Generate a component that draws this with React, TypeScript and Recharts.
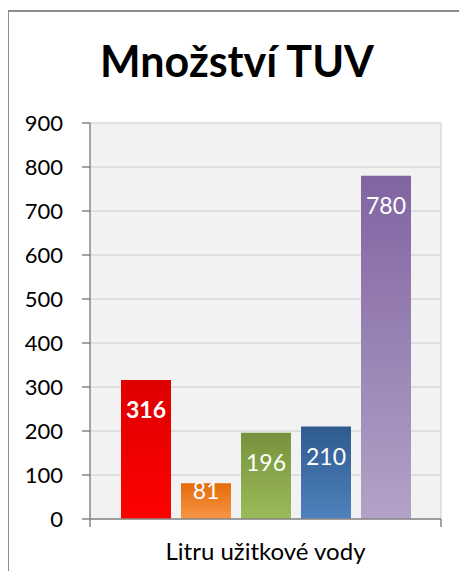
import { BarChart, Bar, XAxis, YAxis, CartesianGrid, LabelList } from 'recharts';

const category = 'Litru užitkové vody';
const seriesKeys = ['s1', 's2', 's3', 's4', 's5'];
const seriesValues = [316, 81, 196, 210, 780];
const yTicks = [0, 100, 200, 300, 400, 500, 600, 700, 800, 900];

// gradient top / bottom per bar
const topColors = ['#de0000', '#e46c0a', '#76923c', '#2f5b8f', '#8064a2'];
const bottomColors = ['#ff0000', '#f79646', '#9bbb59', '#4f81bd', '#b3a2c7'];
const labelBold = [true, false, false, false, false];

const row: Record<string, string | number> = { name: category };
seriesKeys.forEach((k, i) => {
  row[k] = seriesValues[i];
});
const data = [row];

const FONT = 'Lato, "Open Sans", sans-serif';

function makeLabel(bold: boolean) {
  return (props: any) => {
    const { x, y, width, height, value } = props;
    const base = y + Math.min(38, height - 20);
    return (
      <text
        x={x + width / 2}
        y={base}
        textAnchor="middle"
        fill="#ffffff"
        fontSize={23}
        fontWeight={bold ? 700 : 400}
        fontFamily={FONT}
      >
        {value}
      </text>
    );
  };
}

function CategoryTick(props: any) {
  const { x, y, payload, width } = props;
  const left = x - width / 2;
  const right = x + width / 2;
  return (
    <g>
      <line x1={left} y1={y} x2={left} y2={y + 8} stroke="#868686" strokeWidth={1.5} />
      <line x1={right} y1={y} x2={right} y2={y + 8} stroke="#868686" strokeWidth={1.5} />
      <text x={x} y={y + 41} textAnchor="middle" fill="#000" fontSize={24} fontFamily={FONT}>
        {payload.value}
      </text>
    </g>
  );
}

export default function App() {
  return (
    <div style={{ position: 'relative', width: 467, height: 579, margin: -8, background: '#fff', overflow: 'hidden' }}>
      <div
        style={{
          position: 'absolute',
          left: 7,
          top: 10,
          right: -10,
          bottom: -10,
          borderTop: '2px solid #8c8c8c',
          borderLeft: '2px solid #8c8c8c',
        }}
      />
      <div
        style={{
          position: 'absolute',
          left: 0,
          top: 31,
          width: 474,
          textAlign: 'center',
          fontFamily: FONT,
          fontWeight: 700,
          fontSize: 43,
          lineHeight: '60px',
          color: '#000',
        }}
      >
        Množství TUV
      </div>
      <div style={{ position: 'absolute', left: 0, top: 0 }}>
        <BarChart
          width={467}
          height={579}
          data={data}
          margin={{ top: 123, right: 26, bottom: 0, left: 0 }}
          barGap={10}
          barSize={50}
        >
          <defs>
            {seriesKeys.map((k, i) => (
              <linearGradient key={k} id={`grad-${k}`} x1="0" y1="0" x2="0" y2="1">
                <stop offset="0%" stopColor={topColors[i]} />
                <stop offset="100%" stopColor={bottomColors[i]} />
              </linearGradient>
            ))}
          </defs>
          <CartesianGrid
            fill="#f2f2f2"
            stroke="#d9d9d9"
            strokeWidth={1.5}
            verticalCoordinatesGenerator={(p: any) => [p.offset.left + p.offset.width]}
          />
          <XAxis
            dataKey="name"
            height={60}
            axisLine={{ stroke: '#868686', strokeWidth: 1.5 }}
            tickLine={false}
            tickSize={0}
            tickMargin={0}
            tick={<CategoryTick />}
            interval={0}
          />
          <YAxis
            width={90}
            domain={[0, 900]}
            ticks={yTicks}
            interval={0}
            axisLine={{ stroke: '#868686', strokeWidth: 1.5 }}
            tickLine={{ stroke: '#868686', strokeWidth: 1.5 }}
            tickSize={8}
            tickMargin={19}
            tick={{ fill: '#000', fontSize: 22, fontFamily: FONT }}
          />
          {seriesKeys.map((k, i) => (
            <Bar key={k} dataKey={k} fill={`url(#grad-${k})`} isAnimationActive={false}>
              <LabelList dataKey={k} content={makeLabel(labelBold[i])} />
            </Bar>
          ))}
        </BarChart>
      </div>
    </div>
  );
}
